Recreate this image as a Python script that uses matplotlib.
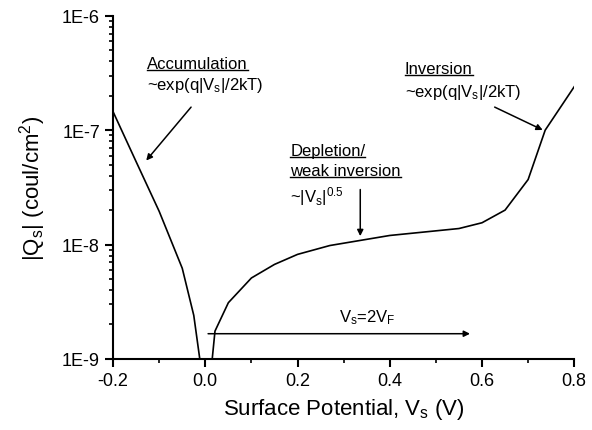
import matplotlib
matplotlib.use("Agg")
import matplotlib.pyplot as plt
import numpy as np
from matplotlib.ticker import LogLocator, FuncFormatter, MultipleLocator, NullFormatter
from matplotlib.lines import Line2D

plt.rcParams['font.family'] = ['Liberation Sans', 'DejaVu Sans']
plt.rcParams['mathtext.fontset'] = 'custom'
plt.rcParams['mathtext.rm'] = 'Liberation Sans'
plt.rcParams['mathtext.it'] = 'Liberation Sans'

# accumulation branch (Vs < 0)
vs_acc = [-0.2, -0.15, -0.1, -0.075, -0.05, -0.025, -0.012]
qs_acc = [1.45e-7, 5.3e-8, 1.95e-8, 1.1e-8, 6.2e-9, 2.4e-9, 1.0e-9]

# depletion / inversion branch (Vs > 0)
vs_dep = [0.015, 0.021, 0.05, 0.1, 0.15, 0.2, 0.27, 0.4, 0.55, 0.6, 0.65, 0.7, 0.737, 0.8]
qs_dep = [1.0e-9, 1.75e-9, 3.1e-9, 5.1e-9, 6.7e-9, 8.2e-9, 9.8e-9, 1.2e-8,
          1.38e-8, 1.55e-8, 2.0e-8, 3.7e-8, 1.0e-7, 2.4e-7]

fig = plt.figure(figsize=(5.92, 4.31), dpi=100)
ax = fig.add_axes([0.191, 0.165, 0.779, 0.796])

ax.semilogy(vs_acc, qs_acc, color='black', lw=1.2)
ax.semilogy(vs_dep, qs_dep, color='black', lw=1.2)

ax.set_xlim(-0.2, 0.8)
ax.set_ylim(1e-9, 1e-6)

ax.spines['top'].set_visible(False)
ax.spines['right'].set_visible(False)
ax.spines['left'].set_linewidth(1.5)
ax.spines['bottom'].set_linewidth(1.5)

ax.xaxis.set_major_locator(MultipleLocator(0.2))
ax.xaxis.set_minor_locator(MultipleLocator(0.1))
ax.xaxis.set_major_formatter(FuncFormatter(lambda v, p: f"{v:.1f}"))
ax.yaxis.set_major_locator(LogLocator(base=10, numticks=10))
ax.yaxis.set_minor_locator(LogLocator(base=10, subs=np.arange(2, 10), numticks=10))
ax.yaxis.set_minor_formatter(NullFormatter())
ax.yaxis.set_major_formatter(FuncFormatter(lambda v, p: f"1E{int(round(np.log10(v)))}"))
ax.tick_params(which='major', direction='out', length=6, width=1.5, labelsize=13)
ax.tick_params(which='minor', direction='out', length=3, width=1.2)

ax.set_xlabel(r"Surface Potential, V$_\mathregular{s}$ (V)", fontsize=16, labelpad=5)
ax.set_ylabel(r"|Q$_\mathregular{s}$| (coul/cm$^\mathregular{2}$)", fontsize=16, labelpad=10)

fs = 12
arrow = dict(arrowstyle='-|>', color='black', lw=1.1, mutation_scale=9)

titles = []
titles.append(ax.text(-0.126, 3.8e-7, "Accumulation", fontsize=fs, va='center'))
ax.text(-0.126, 2.5e-7, r"~exp(q|V$_\mathregular{s}$|/2kT)", fontsize=fs, va='center')
ax.annotate("", xy=(-0.132, 5.2e-8), xytext=(-0.027, 1.66e-7), arrowprops=arrow)

titles.append(ax.text(0.433, 3.45e-7, "Inversion", fontsize=fs, va='center'))
ax.text(0.433, 2.2e-7, r"~exp(q|V$_\mathregular{s}$|/2kT)", fontsize=fs, va='center')
ax.annotate("", xy=(0.737, 9.8e-8), xytext=(0.622, 1.63e-7), arrowprops=arrow)

titles.append(ax.text(0.184, 6.6e-8, "Depletion/", fontsize=fs, va='center'))
titles.append(ax.text(0.184, 4.4e-8, "weak inversion", fontsize=fs, va='center'))
ax.text(0.184, 2.7e-8, r"~|V$_\mathregular{s}$|$^\mathregular{0.5}$", fontsize=fs, va='center')
ax.annotate("", xy=(0.336, 1.12e-8), xytext=(0.336, 3.2e-8), arrowprops=arrow)

ax.text(0.351, 2.33e-9, r"V$_\mathregular{s}$=2V$_\mathregular{F}$", fontsize=fs, ha='center', va='center')
ax.annotate("", xy=(0.58, 1.66e-9), xytext=(0.0, 1.66e-9), arrowprops=arrow)

# underline the section titles
fig.canvas.draw()
renderer = fig.canvas.get_renderer()
inv = fig.transFigure.inverted()
for t in titles:
    bb = t.get_window_extent(renderer)
    (x0, y0), (x1, y1) = inv.transform([(bb.x0, bb.y0), (bb.x1, bb.y0)])
    y0 += 1.5 / fig.bbox.height
    fig.add_artist(Line2D([x0, x1], [y0, y0], transform=fig.transFigure, color='black', lw=1.0))

fig.savefig("out.png", dpi=100)
